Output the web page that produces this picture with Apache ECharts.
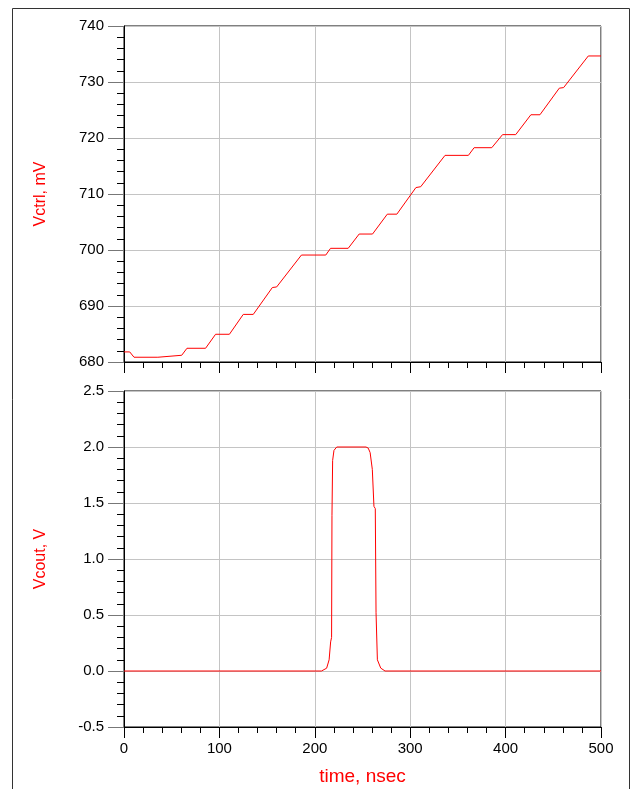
<!DOCTYPE html>
<html lang="en">
<head>
    <meta charset="UTF-8">
    <title>Vctrl / Vcout</title>
    <style>
        html, body { margin: 0; padding: 0; background: #fff; }
        #main { width: 631px; height: 789px; }
    </style>
</head>
<body>
    <div id="main"></div>
    <script src="https://cdn.jsdelivr.net/npm/echarts@6.0.0/dist/echarts.min.js"></script>
    <script>
        // time axis ticks (nsec)
        const timeTicks = [0, 100, 200, 300, 400, 500];

        // Vctrl, mV (staircase)
        const vctrlTime = [0, 6, 10.5, 35.5, 37, 60.5, 66, 85.5, 96, 110.5, 125, 135.5, 155.5, 160, 186,
            211.5, 216.5, 235, 246.5, 260.5, 276, 286, 306, 311, 336.5, 361, 367, 385.5, 396.8, 410.6,
            426.5, 436, 456.3, 460.8, 486.7, 500];
        const vctrlVal = [681.8, 681.8, 680.85, 680.85, 681.2, 681.2, 682.45, 682.45, 684.95, 684.95, 688.5, 688.5, 693.3, 693.4, 699.1,
            699.1, 700.3, 700.3, 702.85, 702.85, 706.4, 706.4, 711.15, 711.3, 716.9, 716.9, 718.27, 718.27, 720.6, 720.6,
            724.15, 724.15, 728.9, 729.0, 734.65, 734.65];

        // Vcout, V (pulse in the bottom plot)
        const vcoutTime = [0, 207, 209, 212.4, 215, 216.6, 217.6, 218, 218.7, 220.1, 223, 253.7, 256, 258, 260.3, 262,
            263.4, 264.2, 265.6, 269.1, 273.6, 500];
        const vcoutVal = [0, 0, -0.015, 0.025, 0.1, 0.26, 0.3, 1.39, 1.88, 1.97, 2.0, 2.0, 1.99, 1.95, 1.8, 1.47,
            1.45, 0.52, 0.10, 0.026, 0, 0];

        const myChart = echarts.init(document.getElementById('main'));

        const font = 'Liberation Sans, Arial, sans-serif';
        const red = '#ff0000';

        function xAxisOpt(gridIndex, showLabels) {
            return {
                type: 'value', gridIndex: gridIndex,
                min: timeTicks[0], max: timeTicks[timeTicks.length - 1], interval: 100,
                axisLine: { show: true, onZero: false, lineStyle: { color: '#000', width: 1 } },
                axisTick: { show: true, length: 11, lineStyle: { color: '#000' } },
                minorTick: { show: true, splitNumber: 5, length: 6, lineStyle: { color: '#000' } },
                splitLine: { show: true, lineStyle: { color: '#c4c4c4', width: 1 } },
                axisLabel: { show: showLabels, margin: 14, color: '#000', fontSize: 15, fontFamily: font },
                name: showLabels ? 'time, nsec' : '',
                nameLocation: 'middle', nameGap: 40,
                nameTextStyle: { color: red, fontSize: 19, fontFamily: font }
            };
        }

        function yAxisOpt(gridIndex, min, max, interval, name, decimals) {
            return {
                type: 'value', gridIndex: gridIndex,
                min: min, max: max, interval: interval,
                axisLine: { show: true, onZero: false, lineStyle: { color: '#000', width: 1 } },
                axisTick: { show: true, length: 16, lineStyle: { color: '#777' } },
                minorTick: { show: true, splitNumber: 5, length: 7, lineStyle: { color: '#000' } },
                splitLine: { show: true, lineStyle: { color: '#c4c4c4', width: 1 } },
                axisLabel: {
                    margin: 20, color: '#000', fontSize: 15, fontFamily: font,
                    formatter: v => v.toFixed(decimals)
                },
                name: name, nameLocation: 'middle', nameGap: 75,
                nameTextStyle: { color: red, fontSize: 16, fontFamily: font }
            };
        }

        const option = {
            backgroundColor: '#fff',
            animation: false,
            graphic: [{
                type: 'rect', silent: true,
                shape: { x: 12.5, y: 8.5, width: 617, height: 800 },
                style: { fill: 'none', stroke: '#333', lineWidth: 1 }
            }],
            grid: [
                { left: 124, right: 30, top: 26, height: 336, show: true, borderColor: '#000', borderWidth: 1, backgroundColor: '#fff' },
                { left: 124, right: 30, top: 391, height: 336, show: true, borderColor: '#000', borderWidth: 1, backgroundColor: '#fff' }
            ],
            xAxis: [xAxisOpt(0, false), xAxisOpt(1, true)],
            yAxis: [
                yAxisOpt(0, 680, 740, 10, 'Vctrl, mV', 0),
                yAxisOpt(1, -0.5, 2.5, 0.5, 'Vcout, V', 1)
            ],
            series: [
                {
                    type: 'line', xAxisIndex: 0, yAxisIndex: 0,
                    data: vctrlTime.map((t, i) => [t, vctrlVal[i]]),
                    showSymbol: false, lineStyle: { color: red, width: 1 }
                },
                {
                    type: 'line', xAxisIndex: 1, yAxisIndex: 1,
                    data: vcoutTime.map((t, i) => [t, vcoutVal[i]]),
                    showSymbol: false, lineStyle: { color: red, width: 1 }
                }
            ]
        };
        myChart.setOption(option);
    </script>
</body>
</html>
